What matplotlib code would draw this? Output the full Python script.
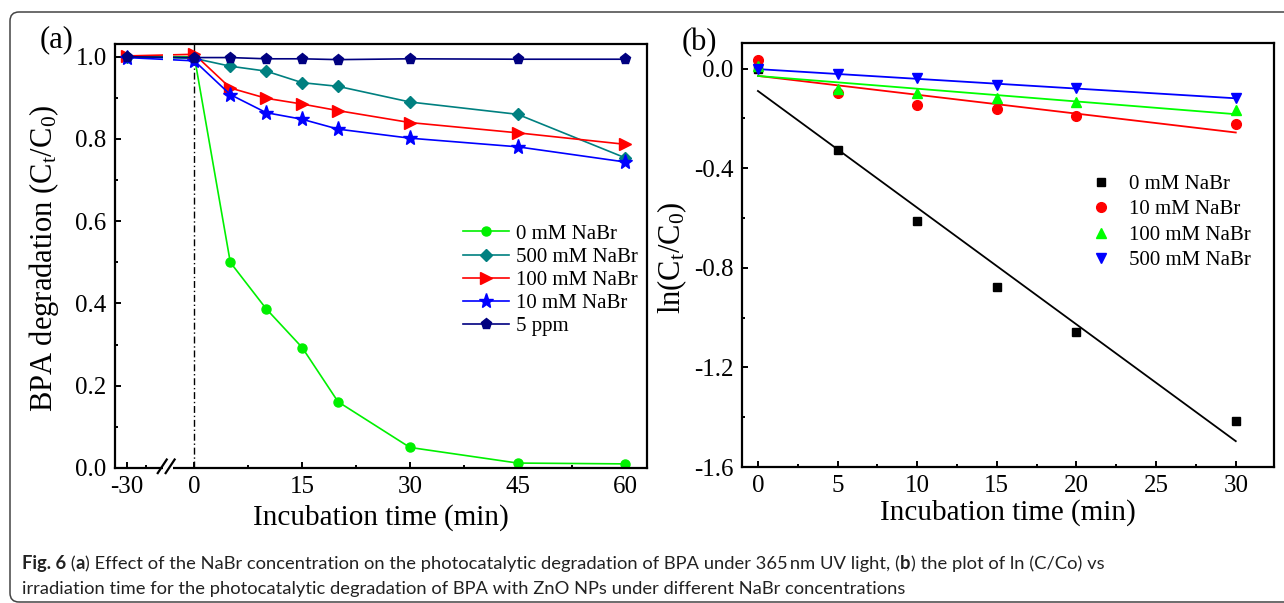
import numpy as np
import matplotlib
matplotlib.use("Agg")
import matplotlib.pyplot as plt
from matplotlib.patches import FancyBboxPatch, Rectangle
from matplotlib.lines import Line2D
from matplotlib.transforms import IdentityTransform

plt.rcParams['font.family'] = ['Liberation Serif', 'DejaVu Serif']
plt.rcParams['mathtext.fontset'] = 'custom'
plt.rcParams['mathtext.rm'] = 'Liberation Serif'
plt.rcParams['mathtext.it'] = 'Liberation Serif:italic'
plt.rcParams['axes.unicode_minus'] = False

# ---- data, panel (a) ----
t_a = [-30, 0, 5, 10, 15, 20, 30, 45, 60]
nabr_0 = [1.0, 1.0, 0.500, 0.387, 0.293, 0.161, 0.050, 0.012, 0.010]
nabr_500 = [1.0, 0.996, 0.977, 0.965, 0.937, 0.928, 0.890, 0.860, 0.754]
nabr_100 = [1.002, 1.006, 0.924, 0.899, 0.885, 0.869, 0.840, 0.815, 0.787]
nabr_10 = [0.998, 0.990, 0.908, 0.864, 0.848, 0.824, 0.802, 0.781, 0.744]
ppm_5 = [1.0, 0.998, 0.998, 0.995, 0.995, 0.993, 0.995, 0.994, 0.994]
ticks_a = [-30, 0, 15, 30, 45, 60]
labels_a = ['-30', '0', '15', '30', '45', '60']

# ---- data, panel (b) ----
t_b = [0, 5, 10, 15, 20, 30]
ln_0 = [0.0, -0.327, -0.612, -0.876, -1.058, -1.416]
ln_10 = [0.036, -0.096, -0.146, -0.163, -0.191, -0.221]
ln_100 = [0.010, -0.083, -0.096, -0.117, -0.133, -0.167]
ln_500 = [0.0, -0.023, -0.039, -0.067, -0.076, -0.119]

# the -30 point sits behind an axis break, squeezed onto the axis
NEG_SCALE = 0.3123


def xpos(t):
    t = np.asarray(t, dtype=float)
    return np.where(t < 0, t * NEG_SCALE, t)


W, H = 1284, 603
fig = plt.figure(figsize=(W / 100, H / 100), dpi=100)


def px_axes(l, t, r, b):
    return fig.add_axes([l / W, 1 - b / H, (r - l) / W, (b - t) / H])


ax1 = px_axes(115, 44, 647, 468)
ax2 = px_axes(742, 43, 1274, 467)

for ax in (ax1, ax2):
    for s in ax.spines.values():
        s.set_linewidth(1.6)
    ax.tick_params(which='both', direction='in', top=False, right=False,
                   labelsize=18, width=1.4, pad=6)
    ax.tick_params(which='major', length=4.5)
    ax.tick_params(which='minor', length=2.5)

# ---- panel (a) ----
lw = 1.2
ax1.plot(xpos(t_a), nabr_0, '-o', color='#00f000', lw=lw, ms=6.5, label='0 mM NaBr')
ax1.plot(xpos(t_a), nabr_500, '-D', color='#008080', lw=lw, ms=6.5, label='500 mM NaBr')
ax1.plot(xpos(t_a), nabr_100, '->', color='#ff0000', lw=lw, ms=8.5, label='100 mM NaBr')
ax1.plot(xpos(t_a), nabr_10, '-*', color='#0000ff', lw=lw, ms=11, label='10 mM NaBr')
ax1.plot(xpos(t_a), ppm_5, '-p', color='#000080', lw=lw, ms=8, label='5 ppm')

ax1.axvline(0, color='black', lw=1.0, dashes=(5, 2, 1, 2), zorder=1)

ax1.set_xlim(-11.05, 63.0)
ax1.set_ylim(0, 1.031)
ax1.set_xticks(xpos(ticks_a))
ax1.set_xticklabels(labels_a)
ax1.set_xticks(list(xpos([-21.4])) + [7.5, 22.5, 37.5, 52.5], minor=True)
ax1.set_yticks(np.arange(0, 1.01, 0.2))
ax1.set_yticklabels(['0.0', '0.2', '0.4', '0.6', '0.8', '1.0'])
ax1.set_yticks(np.arange(0.1, 1.0, 0.2), minor=True)

# axis break: white gap plus two slashes
tr = ax1.get_xaxis_transform()
ax1.add_patch(Rectangle((-4.35, -0.01), 1.35, 0.99, transform=tr,
                        facecolor='white', edgecolor='none', zorder=3, clip_on=False))
for x0 in (-5.1, -4.0):
    ax1.add_line(Line2D([x0, x0 + 1.25], [-0.012, 0.02], transform=tr,
                        color='black', lw=1.6, zorder=4, clip_on=False))

ax1.legend(loc='upper left', bbox_to_anchor=(0.655, 0.575), frameon=False,
           fontsize=15, handlelength=2.2, handletextpad=0.3,
           labelspacing=0.17, borderpad=0, borderaxespad=0)

# ---- panel (b) ----
b_sets = [(ln_0, 's', '#000000', 6, '0 mM NaBr'),
          (ln_10, 'o', '#ff0000', 7, '10 mM NaBr'),
          (ln_100, '^', '#00ff00', 7.5, '100 mM NaBr'),
          (ln_500, 'v', '#0000ff', 7.5, '500 mM NaBr')]
xfit = np.array([t_b[0], t_b[-1]], dtype=float)
for ys, m, c, ms, lab in b_sets:
    k, b = np.polyfit(t_b, ys, 1)
    ax2.plot(xfit, k * xfit + b, '-', color=c, lw=1.3, zorder=2)
    ax2.plot(t_b, ys, m, color=c, ms=ms, ls='none', label=lab, zorder=3)

ax2.set_xlim(-1.0, 32.4)
ax2.set_ylim(-1.6, 0.103)
ax2.set_xticks(np.arange(0, 31, 5))
ax2.set_xticks(np.arange(2.5, 31, 5), minor=True)
ax2.set_yticks(np.arange(-1.6, 0.01, 0.4))
ax2.set_yticklabels(['-1.6', '-1.2', '-0.8', '-0.4', '0.0'])
ax2.set_yticks(np.arange(-1.4, 0.0, 0.4), minor=True)

ax2.legend(loc='upper left', bbox_to_anchor=(0.655, 0.69), frameon=False,
           fontsize=15, handlelength=1.0, handletextpad=0.85,
           labelspacing=0.28, borderpad=0, borderaxespad=0)

# ---- labels ----
fig.text(381 / W, 1 - 518 / H, 'Incubation time (min)', fontsize=21, ha='center', va='center')
fig.text(1008 / W, 1 - 513 / H, 'Incubation time (min)', fontsize=21, ha='center', va='center')
fig.text(44 / W, 1 - 258 / H, r'BPA degradation (C$_\mathrm{t}$/C$_\mathrm{0}$)',
         fontsize=22, rotation=90, ha='center', va='center')
fig.text(672 / W, 1 - 258 / H, r'ln(C$_\mathrm{t}$/C$_\mathrm{0}$)',
         fontsize=22, rotation=90, ha='center', va='center')
fig.text(40 / W, 1 - 40 / H, '(a)', fontsize=22, ha='left', va='center')
fig.text(682 / W, 1 - 43 / H, '(b)', fontsize=22, ha='left', va='center')

# ---- caption ----
cap_font = ['Lato', 'DejaVu Sans']
cap_size = 13.2
cap_color = '#222222'
line1 = [('Fig. 6', 'bold'), (' (', 'normal'), ('a', 'bold'),
         (') Effect of the NaBr concentration on the photocatalytic degradation of BPA under 365\u2009nm UV light, (', 'normal'),
         ('b', 'bold'),
         (') the plot of ln (C/Co) vs', 'normal')]
line2 = 'irradiation time for the photocatalytic degradation of BPA with ZnO NPs under different NaBr concentrations'

pieces = [fig.text(0, 1 - 569 / H, txt, fontsize=cap_size, fontweight=wt, family=cap_font,
                   ha='left', va='baseline', color=cap_color) for txt, wt in line1]
fig.canvas.draw()
renderer = fig.canvas.get_renderer()
x_cur = 22
for p in pieces:
    p.set_x(x_cur / W)
    x_cur += p.get_window_extent(renderer).width
fig.text(22 / W, 1 - 594 / H, line2, fontsize=cap_size, family=cap_font,
         ha='left', va='baseline', color=cap_color)

# rounded frame around the whole figure
frame = FancyBboxPatch((10, 1), 1300, H - 13, boxstyle='round,pad=0,rounding_size=9',
                       transform=IdentityTransform(), facecolor='none',
                       edgecolor='#444444', lw=1.1)
fig.patches.append(frame)

fig.savefig('out.png', dpi=100)
